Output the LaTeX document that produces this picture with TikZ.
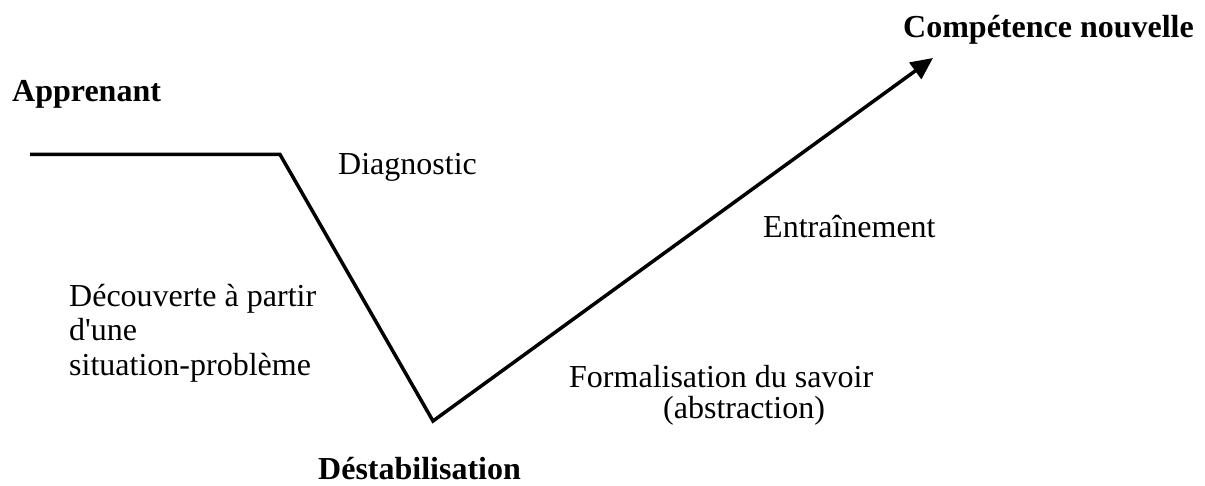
\documentclass[tikz,border=0pt]{standalone}
\usepackage{fontspec}
\setmainfont{Liberation Serif}
\usetikzlibrary{arrows.meta}
\begin{document}
\begin{tikzpicture}[x=1pt,y=-1pt,
  lbl/.style={anchor=base west,inner sep=0pt,font=\fontsize{32}{36}\selectfont},
  blbl/.style={lbl,font=\fontsize{32}{36}\selectfont\bfseries},
  curve/.style={line width=3.5pt,miter limit=10}]
\useasboundingbox (0,0) rectangle (1205,486);
\coordinate (a) at (30,154.5);
\coordinate (b) at (280,154.5);
\coordinate (c) at (433,421);
\coordinate (d) at (933,58);
\draw[curve,-{Triangle[length=22pt,width=20pt]}] (a) -- (b) -- (c) -- (d);
\node[blbl] (app) at (12,102) {Apprenant};
\node[blbl] (comp) at (903,38) {Compétence nouvelle};
\node[blbl] (dest) at (318,479) {Déstabilisation};
\node[lbl] (diag) at (338,175) {Diagnostic};
\node[lbl] (entr) at (763,238) {Entraînement};
\node[lbl] (dec1) at (69,307) {Découverte à partir};
\node[lbl] (dec2) at (69,341) {d\textquotesingle une};
\node[lbl] (dec3) at (69,375) {situation-problème};
\node[lbl] (form) at (569,387) {Formalisation du savoir};
\node[lbl] (abst) at (663,418) {(abstraction)};
\end{tikzpicture}
\end{document}
